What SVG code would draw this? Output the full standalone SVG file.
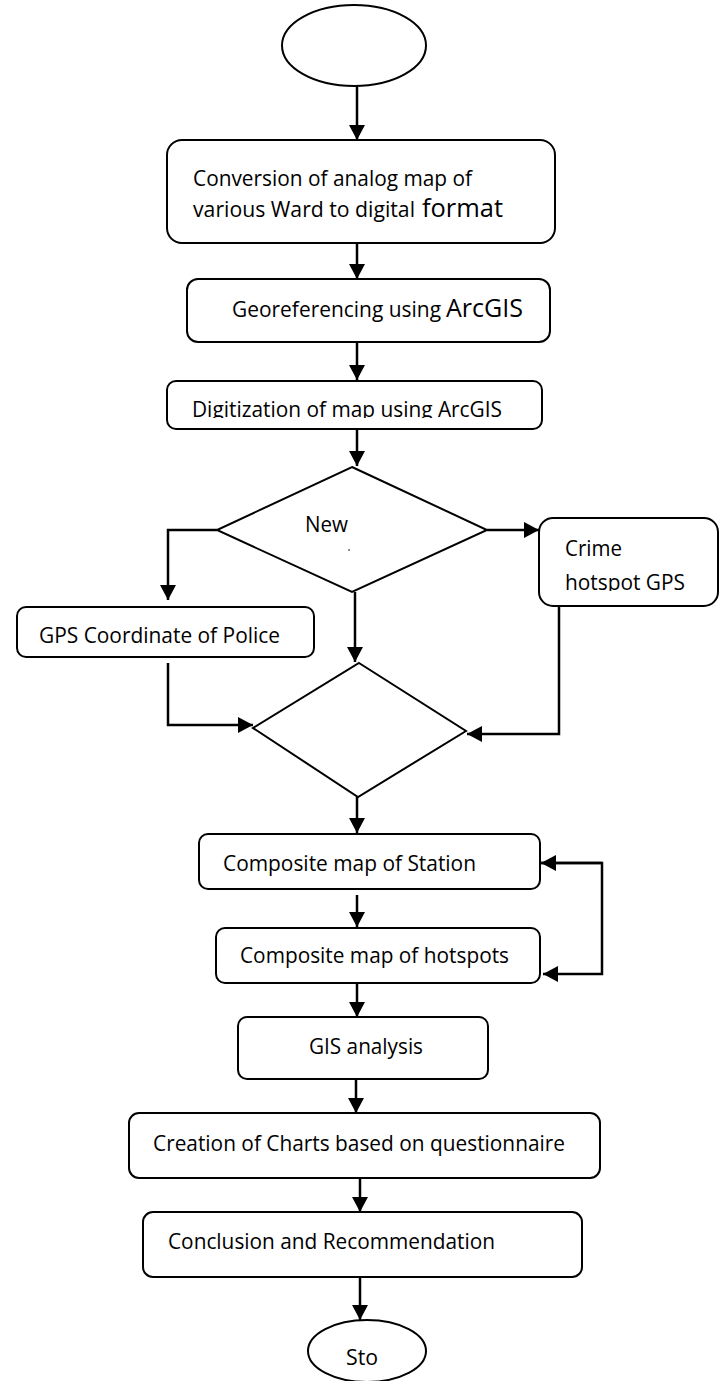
<svg xmlns="http://www.w3.org/2000/svg" width="719" height="1381" viewBox="0 0 719 1381">
<style>
.n{fill:#fff;stroke:#000;stroke-width:2}
.t{font-family:"Open Sans","Liberation Sans",sans-serif;font-size:21px;fill:#000}
.tb{font-family:"Open Sans","Liberation Sans",sans-serif;font-size:25px;fill:#000}
.c{fill:none;stroke:#000;stroke-width:2.5}
</style>
<defs>
<marker id="ah" markerUnits="userSpaceOnUse" markerWidth="15" markerHeight="16" viewBox="0 0 15 16" refX="15" refY="8" orient="auto">
<path d="M0,0 L15,8 L0,16 z" fill="#000"/>
</marker>
<clipPath id="clipDig"><rect x="160" y="375" width="400" height="43"/></clipPath>
<clipPath id="clipCrime"><rect x="540" y="515" width="179" height="76"/></clipPath>
</defs>
<rect width="719" height="1381" fill="#fff"/>
<g id="connectors">
<path class="c" d="M357,86 L357,140" marker-end="url(#ah)"/>
<path class="c" d="M357,243 L357,279" marker-end="url(#ah)"/>
<path class="c" d="M357,342 L357,380" marker-end="url(#ah)"/>
<path class="c" d="M357,429 L357,466" marker-end="url(#ah)"/>
<path class="c" d="M487,530 L539,530" marker-end="url(#ah)"/>
<path class="c" d="M217,530 L168,530 L168,600" marker-end="url(#ah)"/>
<path class="c" d="M355,592 L355,662" marker-end="url(#ah)"/>
<path class="c" d="M168,663 L168,725 L253,725" marker-end="url(#ah)"/>
<path class="c" d="M559,606 L559,734 L467,734" marker-end="url(#ah)"/>
<path class="c" d="M357,797 L357,833" marker-end="url(#ah)"/>
<path class="c" d="M357,895 L357,927" marker-end="url(#ah)"/>
<path class="c" d="M541,863 L602,863 L602,974 L543,974" marker-end="url(#ah)"/>
<path class="c" d="M602,863 L541,863" marker-end="url(#ah)"/>
<path class="c" d="M357,983 L357,1017" marker-end="url(#ah)"/>
<path class="c" d="M356,1079 L356,1113" marker-end="url(#ah)"/>
<path class="c" d="M360,1178 L360,1212" marker-end="url(#ah)"/>
<path class="c" d="M360,1277 L360,1320" marker-end="url(#ah)"/>
</g>
<g id="start">
<ellipse class="n" cx="354" cy="45.5" rx="72" ry="40.5"/>
</g>
<g id="conversion">
<rect class="n" x="167" y="140" width="388" height="103" rx="15"/>
<text class="t" x="193" y="186" textLength="279" lengthAdjust="spacingAndGlyphs">Conversion of analog map of</text>
<text class="t" x="193" y="217" textLength="222" lengthAdjust="spacingAndGlyphs">various Ward to digital</text>
<text class="tb" x="422" y="217" textLength="81" lengthAdjust="spacingAndGlyphs">format</text>
</g>
<g id="georef">
<rect class="n" x="187" y="279" width="363" height="63" rx="11"/>
<text class="t" x="232" y="317" textLength="209" lengthAdjust="spacingAndGlyphs">Georeferencing using</text>
<text class="tb" x="446" y="317" textLength="77" lengthAdjust="spacingAndGlyphs">ArcGIS</text>
</g>
<g id="digitization">
<rect class="n" x="167" y="381" width="375" height="48" rx="9"/>
<text class="t" x="192" y="417" textLength="310" lengthAdjust="spacingAndGlyphs" clip-path="url(#clipDig)">Digitization of map using ArcGIS</text>
</g>
<g id="decision1">
<polygon class="n" points="352,467 487,530 352,592 217,530"/>
<text class="t" x="305" y="532" textLength="43" lengthAdjust="spacingAndGlyphs">New</text>
<circle cx="349" cy="550" r="0.8" fill="#000"/>
</g>
<g id="crime">
<rect class="n" x="539" y="518" width="179" height="88" rx="14"/>
<g clip-path="url(#clipCrime)">
<text class="t" x="565" y="556" textLength="57" lengthAdjust="spacingAndGlyphs">Crime</text>
<text class="t" x="565" y="590" textLength="120" lengthAdjust="spacingAndGlyphs">hotspot GPS</text>
</g>
</g>
<g id="gps">
<rect class="n" x="17" y="607" width="297" height="50" rx="9"/>
<text class="t" x="39" y="643" textLength="241" lengthAdjust="spacingAndGlyphs">GPS Coordinate of Police</text>
</g>
<g id="decision2">
<polygon class="n" points="359,663 466,731 358,797 253,728"/>
</g>
<g id="station">
<rect class="n" x="199" y="834" width="341" height="55" rx="9"/>
<text class="t" x="223" y="871" textLength="253" lengthAdjust="spacingAndGlyphs">Composite map of Station</text>
</g>
<g id="hotspots">
<rect class="n" x="216" y="928" width="324" height="55" rx="9"/>
<text class="t" x="240" y="963" textLength="269" lengthAdjust="spacingAndGlyphs">Composite map of hotspots</text>
</g>
<g id="gis">
<rect class="n" x="238" y="1017" width="250" height="62" rx="9"/>
<text class="t" x="309" y="1054" textLength="114" lengthAdjust="spacingAndGlyphs">GIS analysis</text>
</g>
<g id="charts">
<rect class="n" x="129" y="1113" width="471" height="65" rx="10"/>
<text class="t" x="153" y="1151" textLength="412" lengthAdjust="spacingAndGlyphs">Creation of Charts based on questionnaire</text>
</g>
<g id="conclusion">
<rect class="n" x="143" y="1212" width="439" height="65" rx="10"/>
<text class="t" x="168" y="1249" textLength="327" lengthAdjust="spacingAndGlyphs">Conclusion and Recommendation</text>
</g>
<g id="stop">
<ellipse class="n" cx="367" cy="1351" rx="59" ry="31"/>
<text class="t" x="346" y="1365" textLength="32" lengthAdjust="spacingAndGlyphs">Sto</text>
</g>
</svg>
